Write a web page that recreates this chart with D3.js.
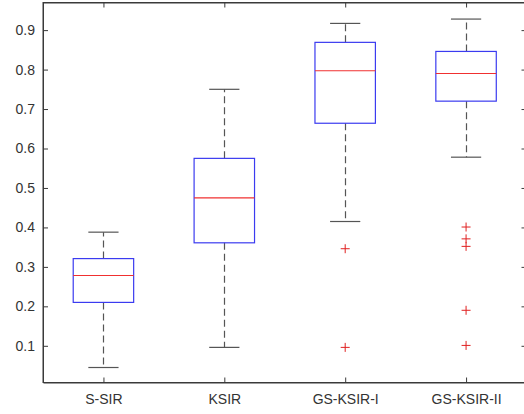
<!DOCTYPE html>
<html>
<head>
<meta charset="utf-8">
<script src="https://cdn.jsdelivr.net/npm/d3@7"></script>
<style>
  html, body { margin: 0; padding: 0; background: #fff; }
  svg { display: block; }
  text { font-family: Arial, "Liberation Sans", Helvetica, sans-serif; }
</style>
</head>
<body>
<svg id="chart" width="524" height="414"></svg>
<script>
const categories = ["S-SIR", "KSIR", "GS-KSIR-I", "GS-KSIR-II"];
const whiskerLow  = [0.045, 0.096, 0.415, 0.578];
const q1          = [0.210, 0.361, 0.664, 0.720];
const medians     = [0.278, 0.475, 0.797, 0.790];
const q3          = [0.321, 0.575, 0.869, 0.846];
const whiskerHigh = [0.388, 0.750, 0.917, 0.928];
const outliers = [
  [],
  [],
  [0.346, 0.096],
  [0.401, 0.371, 0.352, 0.190, 0.101]
];
const yTicks = [0.1, 0.2, 0.3, 0.4, 0.5, 0.6, 0.7, 0.8, 0.9];

(function () {
const svg = d3.select("#chart");
const mLeft = 43, mRight = 526.5, mTop = 2.5, mBottom = 382.5;
const axisColor = "#3a3a3a";
const textColor = "#333333";

const x = d3.scaleLinear().domain([0.5, 4.5]).range([mLeft, mRight]);
const y = d3.scaleLinear().domain([0.007, 0.970]).range([mBottom, mTop]);

const boxHalf = 0.25, capHalf = 0.125;

svg.append("rect")
  .attr("x", mLeft).attr("y", mTop)
  .attr("width", mRight - mLeft).attr("height", mBottom - mTop)
  .attr("fill", "none").attr("stroke", axisColor).attr("stroke-width", 1);

const yAxisL = d3.axisLeft(y).tickValues(yTicks).tickFormat(d3.format(".1f")).tickSizeInner(-5).tickSizeOuter(0).tickPadding(8);
const gL = svg.append("g").attr("transform", `translate(${mLeft},0)`).call(yAxisL);
const yAxisR = d3.axisRight(y).tickValues(yTicks).tickFormat("").tickSizeInner(-5).tickSizeOuter(0);
const gR = svg.append("g").attr("transform", `translate(${mRight},0)`).call(yAxisR);
const xAxisB = d3.axisBottom(x).tickValues([1, 2, 3, 4]).tickFormat((d) => categories[d - 1]).tickSizeInner(-5).tickSizeOuter(0).tickPadding(12);
const gB = svg.append("g").attr("transform", `translate(0,${mBottom})`).call(xAxisB);
const xAxisT = d3.axisTop(x).tickValues([1, 2, 3, 4]).tickFormat("").tickSizeInner(-5).tickSizeOuter(0);
const gT = svg.append("g").attr("transform", `translate(0,${mTop})`).call(xAxisT);

[gL, gR, gB, gT].forEach(g => {
  g.select(".domain").attr("stroke", axisColor);
  g.selectAll(".tick line").attr("stroke", axisColor);
  g.selectAll(".tick text").attr("fill", textColor).style("font-size", "14px")
    .style("font-family", "Arial, 'Liberation Sans', Helvetica, sans-serif");
});

const idx = d3.range(categories.length);
const g = svg.append("g");

idx.forEach(i => {
  const cx = Math.round(x(i + 1)) + 0.5;
  g.append("line").attr("x1", cx).attr("x2", cx)
    .attr("y1", y(q3[i])).attr("y2", y(whiskerHigh[i]))
    .attr("stroke", "#555").attr("stroke-width", 1.2).attr("stroke-dasharray", "7,4");
  g.append("line").attr("x1", cx).attr("x2", cx)
    .attr("y1", y(q1[i])).attr("y2", y(whiskerLow[i]))
    .attr("stroke", "#555").attr("stroke-width", 1.2).attr("stroke-dasharray", "7,4");
  [whiskerHigh[i], whiskerLow[i]].forEach(v => {
    g.append("line")
      .attr("x1", x(i + 1 - capHalf)).attr("x2", x(i + 1 + capHalf))
      .attr("y1", y(v)).attr("y2", y(v))
      .attr("stroke", "#555").attr("stroke-width", 1.2);
  });
  g.append("rect")
    .attr("x", x(i + 1 - boxHalf)).attr("width", x(i + 1 + boxHalf) - x(i + 1 - boxHalf))
    .attr("y", y(q3[i])).attr("height", y(q1[i]) - y(q3[i]))
    .attr("fill", "none").attr("stroke", "#3b3bf0").attr("stroke-width", 1.2);
  g.append("line")
    .attr("x1", x(i + 1 - boxHalf)).attr("x2", x(i + 1 + boxHalf))
    .attr("y1", y(medians[i])).attr("y2", y(medians[i]))
    .attr("stroke", "#f03030").attr("stroke-width", 1.1);
  outliers[i].forEach(v => {
    const px = x(i + 1), py = y(v), s = 4.5;
    g.append("path")
      .attr("d", `M${px - s},${py}H${px + s}M${px},${py - s}V${py + s}`)
      .attr("stroke", "#e02020").attr("stroke-width", 1).attr("fill", "none");
  });
});
})();
</script>
</body>
</html>
